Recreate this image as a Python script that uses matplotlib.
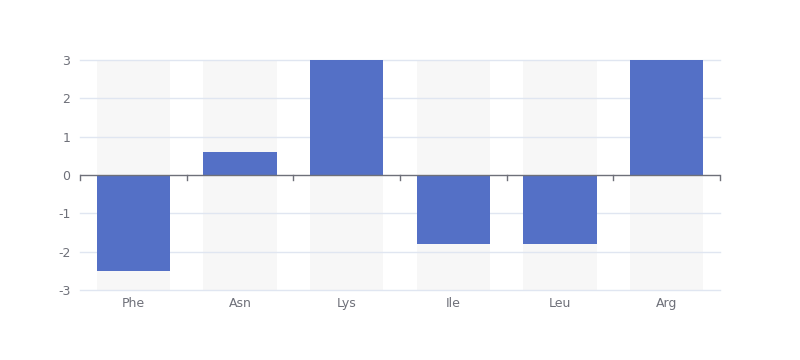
import matplotlib
matplotlib.use("Agg")
import matplotlib.pyplot as plt

categories = ["Phe", "Asn", "Lys", "Ile", "Leu", "Arg"]
values = [-2.5, 0.6, 3, -1.8, -1.8, 3]
y_ticks = [-3, -2, -1, 0, 1, 2, 3]

bar_color = "#5470c6"
grid_color = "#e0e6f1"
axis_color = "#6e7079"

fig = plt.figure(figsize=(8, 3.6), dpi=100)
ax = fig.add_axes([0.1, 70 / 360, 0.8, 230 / 360])

x = list(range(len(categories)))
width = 0.69

# background bars spanning the full value range
ax.bar(x, [6] * len(x), bottom=-3, width=width, color="#f7f7f7", zorder=0)
ax.bar(x, values, width=width, color=bar_color, zorder=3)

for t in y_ticks:
    if t != 0:
        ax.axhline(t, color=grid_color, lw=1, zorder=1, clip_on=False)

ax.set_xlim(-0.5, len(categories) - 0.5)
ax.set_ylim(-3, 3)
ax.set_yticks(y_ticks)
ax.set_yticklabels([str(t) for t in y_ticks])

# category axis drawn at zero
ax.axhline(0, color=axis_color, lw=1, zorder=4)
for b in [i - 0.5 for i in range(len(categories) + 1)]:
    ax.plot([b, b], [0, -0.13], color=axis_color, lw=1, zorder=4, clip_on=False)

ax.set_xticks(x)
ax.set_xticklabels(categories)
ax.tick_params(axis="x", length=0, pad=5, labelsize=9, labelcolor=axis_color)
ax.tick_params(axis="y", length=0, pad=7, labelsize=9, labelcolor=axis_color)

for s in ax.spines.values():
    s.set_visible(False)

fig.savefig("out.png", dpi=100)
